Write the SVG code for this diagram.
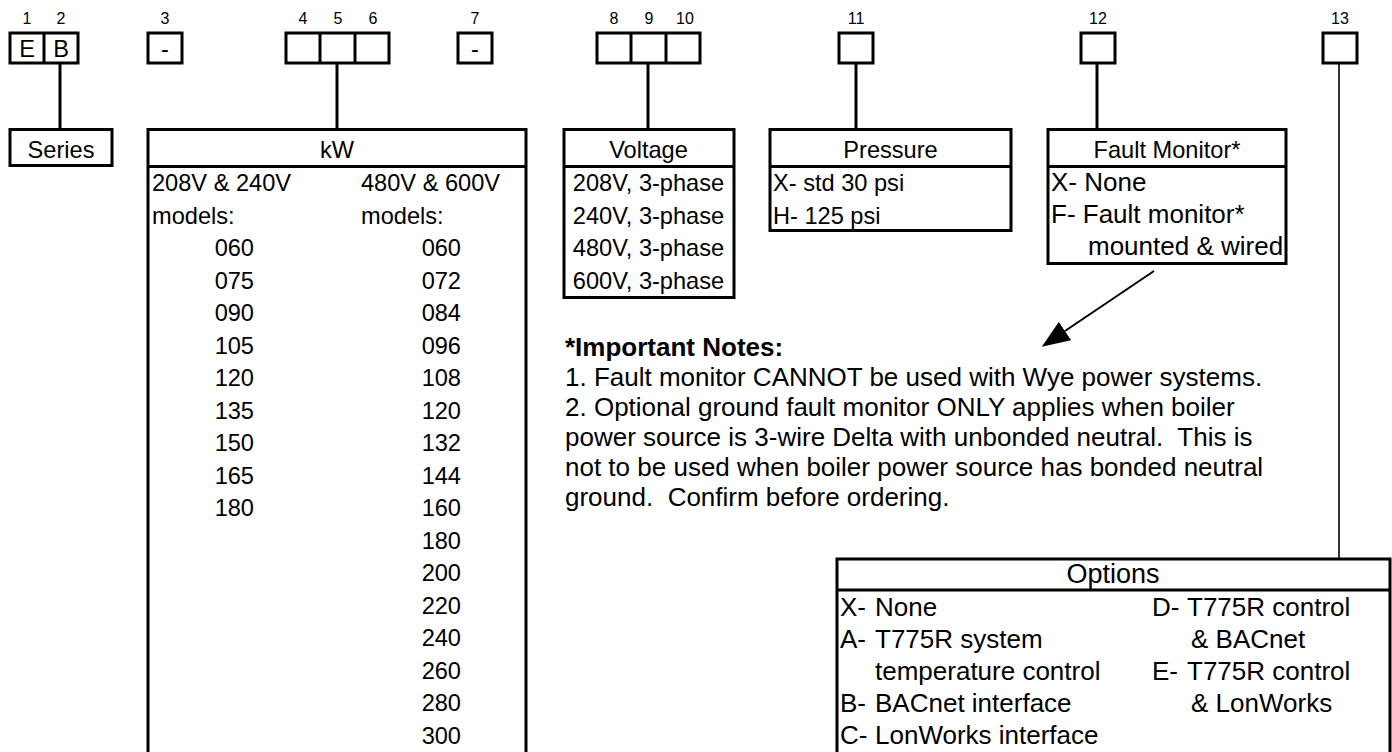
<svg xmlns="http://www.w3.org/2000/svg" width="1392" height="752" viewBox="0 0 1392 752">
<style>
text{font-family:"Liberation Sans",Arial,Helvetica,sans-serif;fill:#000}
.b{fill:#fff;stroke:#000;stroke-width:3}
.d{stroke:#000;stroke-width:3;fill:none}
.n{font-size:16px;text-anchor:middle}
.c{font-size:23.6px;text-anchor:middle}
.t{font-size:23.6px}
.e{font-size:23.6px;text-anchor:end}
.f{font-size:26px}
.h{font-size:26px;font-weight:bold}
</style>
<defs>
<marker id="ah" markerUnits="userSpaceOnUse" viewBox="0 -11 28 22" refX="0" refY="0" markerWidth="28" markerHeight="22" orient="auto">
<path d="M0,-11 L28,0 L0,11 z" fill="#000"/>
</marker>
</defs>
<rect width="1392" height="752" fill="#fff"/>
<g id="connectors">
<line class="d" x1="60" y1="63" x2="60" y2="129"/>
<line class="d" x1="337" y1="63" x2="337" y2="129"/>
<line class="d" x1="648" y1="63" x2="648" y2="129"/>
<line class="d" x1="856" y1="63" x2="856" y2="129"/>
<line class="d" x1="1097" y1="63" x2="1097" y2="129"/>
<line x1="1339" y1="63" x2="1339" y2="559" stroke="#000" stroke-width="1.6"/>
<line x1="1154" y1="271" x2="1065" y2="331" stroke="#000" stroke-width="2" marker-end="url(#ah)"/>
</g>
<g id="code-boxes">
<text class="n" x="27" y="24">1</text>
<text class="n" x="61" y="24">2</text>
<text class="n" x="165" y="24">3</text>
<text class="n" x="303" y="24">4</text>
<text class="n" x="338" y="24">5</text>
<text class="n" x="373" y="24">6</text>
<text class="n" x="475" y="24">7</text>
<text class="n" x="614" y="24">8</text>
<text class="n" x="649" y="24">9</text>
<text class="n" x="685" y="24">10</text>
<text class="n" x="856" y="24">11</text>
<text class="n" x="1098" y="24">12</text>
<text class="n" x="1340" y="24">13</text>
<g id="box-1-2">
<rect class="b" x="10" y="33" width="68" height="30"/>
<line class="d" x1="44" y1="33" x2="44" y2="63"/>
<text class="c" x="27" y="57">E</text>
<text class="c" x="61" y="57">B</text>
</g>
<g id="box-3"><rect class="b" x="148" y="33" width="34" height="30"/><text class="c" x="165" y="57">-</text></g>
<g id="box-4-6"><rect class="b" x="286" y="33" width="103" height="30"/><line class="d" x1="320" y1="33" x2="320" y2="63"/><line class="d" x1="355" y1="33" x2="355" y2="63"/></g>
<g id="box-7"><rect class="b" x="458" y="33" width="34" height="30"/><text class="c" x="475" y="57">-</text></g>
<g id="box-8-10"><rect class="b" x="597" y="33" width="103" height="30"/><line class="d" x1="631" y1="33" x2="631" y2="63"/><line class="d" x1="666" y1="33" x2="666" y2="63"/></g>
<g id="box-11"><rect class="b" x="839" y="33" width="34" height="30"/></g>
<g id="box-12"><rect class="b" x="1081" y="33" width="34" height="30"/></g>
<g id="box-13"><rect class="b" x="1323" y="33" width="34" height="30"/></g>
</g>
<g id="series">
<rect class="b" x="10" y="129.5" width="102" height="36"/>
<text class="c" x="61" y="157.5">Series</text>
</g>
<g id="kw">
<rect class="b" x="148" y="129.5" width="378" height="640"/>
<line class="d" x1="148" y1="166.5" x2="526" y2="166.5"/>
<text class="c" x="337" y="157.5">kW</text>
<text class="t" x="152" y="191">208V &amp; 240V</text>
<text class="t" x="361" y="191">480V &amp; 600V</text>
<text class="t" x="152" y="223.5">models:</text>
<text class="t" x="361" y="223.5">models:</text>
<text class="e" x="254" y="256">060</text>
<text class="e" x="254" y="288.5">075</text>
<text class="e" x="254" y="321">090</text>
<text class="e" x="254" y="353.5">105</text>
<text class="e" x="254" y="386">120</text>
<text class="e" x="254" y="418.5">135</text>
<text class="e" x="254" y="451">150</text>
<text class="e" x="254" y="483.5">165</text>
<text class="e" x="254" y="516">180</text>
<text class="e" x="461" y="256">060</text>
<text class="e" x="461" y="288.5">072</text>
<text class="e" x="461" y="321">084</text>
<text class="e" x="461" y="353.5">096</text>
<text class="e" x="461" y="386">108</text>
<text class="e" x="461" y="418.5">120</text>
<text class="e" x="461" y="451">132</text>
<text class="e" x="461" y="483.5">144</text>
<text class="e" x="461" y="516">160</text>
<text class="e" x="461" y="548.5">180</text>
<text class="e" x="461" y="581">200</text>
<text class="e" x="461" y="613.5">220</text>
<text class="e" x="461" y="646">240</text>
<text class="e" x="461" y="678.5">260</text>
<text class="e" x="461" y="711">280</text>
<text class="e" x="461" y="743.5">300</text>
</g>
<g id="voltage">
<rect class="b" x="564" y="129.5" width="170" height="168"/>
<line class="d" x1="564" y1="166.5" x2="734" y2="166.5"/>
<text class="c" x="648.5" y="157.5">Voltage</text>
<text class="c" x="648.5" y="191">208V, 3-phase</text>
<text class="c" x="648.5" y="223.5">240V, 3-phase</text>
<text class="c" x="648.5" y="256">480V, 3-phase</text>
<text class="c" x="648.5" y="288.5">600V, 3-phase</text>
</g>
<g id="pressure">
<rect class="b" x="770" y="129.5" width="241" height="101"/>
<line class="d" x1="770" y1="166.5" x2="1011" y2="166.5"/>
<text class="c" x="890.5" y="157.5">Pressure</text>
<text class="t" x="773" y="191">X- std 30 psi</text>
<text class="t" x="773" y="223.5">H- 125 psi</text>
</g>
<g id="fault-monitor">
<rect class="b" x="1048" y="129.5" width="238" height="134"/>
<line class="d" x1="1048" y1="166.5" x2="1286" y2="166.5"/>
<text class="c" x="1167" y="157.5">Fault Monitor*</text>
<text class="f" x="1051" y="191">X- None</text>
<text class="f" x="1051" y="223">F- Fault monitor*</text>
<text class="f" x="1088" y="255">mounted &amp; wired</text>
</g>
<g id="notes">
<text class="h" x="565" y="356">*Important Notes:</text>
<text class="f" x="565" y="386">1. Fault monitor CANNOT be used with Wye power systems.</text>
<text class="f" x="565" y="416">2. Optional ground fault monitor ONLY applies when boiler</text>
<text class="f" x="565" y="446" xml:space="preserve">power source is 3-wire Delta with unbonded neutral.  This is</text>
<text class="f" x="565" y="476">not to be used when boiler power source has bonded neutral</text>
<text class="f" x="565" y="506" xml:space="preserve">ground.  Confirm before ordering.</text>
</g>
<g id="options">
<rect class="b" x="837" y="559" width="553" height="220"/>
<line class="d" x1="837" y1="590" x2="1390" y2="590"/>
<text x="1113" y="583" style="font-size:27px;text-anchor:middle">Options</text>
<text class="f" x="840" y="616">X-</text><text class="f" x="875" y="616">None</text>
<text class="f" x="840" y="648">A-</text><text class="f" x="875" y="648">T775R system</text>
<text class="f" x="875" y="680">temperature control</text>
<text class="f" x="840" y="712">B-</text><text class="f" x="875" y="712">BACnet interface</text>
<text class="f" x="840" y="744">C-</text><text class="f" x="875" y="744">LonWorks interface</text>
<text class="f" x="1152" y="616">D-</text><text class="f" x="1187" y="616">T775R control</text>
<text class="f" x="1191" y="648">&amp; BACnet</text>
<text class="f" x="1152" y="680">E-</text><text class="f" x="1187" y="680">T775R control</text>
<text class="f" x="1191" y="712">&amp; LonWorks</text>
</g>
</svg>
